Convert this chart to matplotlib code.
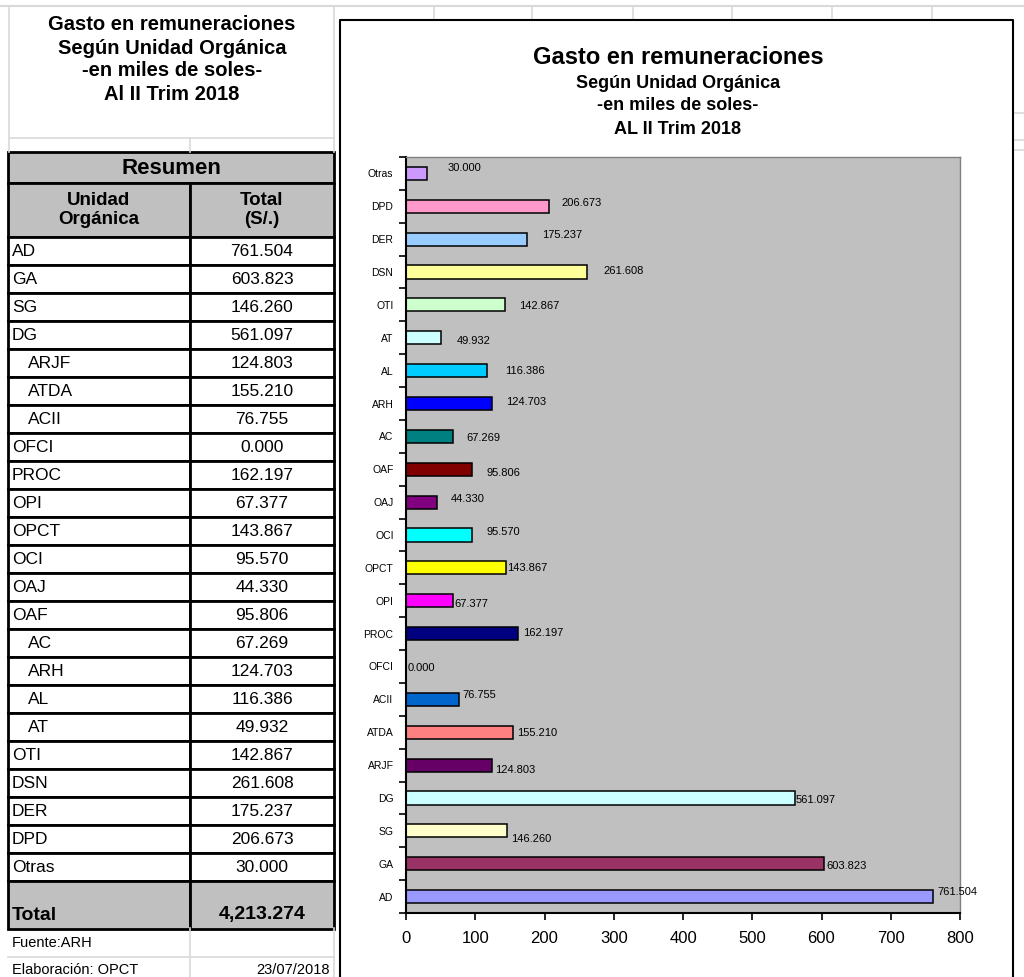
import matplotlib
matplotlib.use('Agg')
import matplotlib.pyplot as plt
from matplotlib.patches import Rectangle

plt.rcParams['font.family'] = ['Liberation Sans', 'DejaVu Sans']

# data (same order as the summary table, bottom to top on the chart)
units = ['AD', 'GA', 'SG', 'DG', 'ARJF', 'ATDA', 'ACII', 'OFCI', 'PROC', 'OPI', 'OPCT', 'OCI',
         'OAJ', 'OAF', 'AC', 'ARH', 'AL', 'AT', 'OTI', 'DSN', 'DER', 'DPD', 'Otras']
values = [761.504, 603.823, 146.260, 561.097, 124.803, 155.210, 76.755, 0.000, 162.197, 67.377,
          143.867, 95.570, 44.330, 95.806, 67.269, 124.703, 116.386, 49.932, 142.867, 261.608,
          175.237, 206.673, 30.000]
indented = ['ARJF', 'ATDA', 'ACII', 'AC', 'ARH', 'AL', 'AT']
bar_colors = ['#9999FF', '#993366', '#FFFFCC', '#CCFFFF', '#660066', '#FF8080', '#0066CC', '#C0C0C0',
              '#000080', '#FF00FF', '#FFFF00', '#00FFFF', '#800080', '#800000', '#008080', '#0000FF',
              '#00CCFF', '#CCFFFF', '#CCFFCC', '#FFFF99', '#99CCFF', '#FF99CC', '#CC99FF']
# data label nudges in pixels (dx, dy down), excel puts them a bit everywhere
label_nudge = [(4, -5), (2, 2), (4, 8), (1, 2), (3, 5), (4, 1), (3, -4), (2, 2), (5, -1), (2, 3),
               (1, 0), (14, -3), (14, -3), (14, 4), (14, 2), (14, -2), (18, 0), (16, 3), (14, 1),
               (16, -1), (15, -4), (12, -3), (21, -5)]

title_lines = ['Gasto en remuneraciones', 'Según Unidad Orgánica', '-en miles de soles-']
period_left = 'Al II Trim 2018'
period_chart = 'AL II Trim 2018'
fuente = 'Fuente:ARH'
elaboracion = 'Elaboración: OPCT'
fecha = '23/07/2018'

W, H = 1024, 977
fig = plt.figure(figsize=(W / 100, H / 100), dpi=100)
bg = fig.add_axes([0, 0, 1, 1])
bg.set_xlim(0, W)
bg.set_ylim(H, 0)
bg.axis('off')

grid_c = '#D9D9D9'
# spreadsheet gridlines
bg.plot([0, W], [6, 6], color=grid_c, lw=1.5)
bg.plot([9, 9], [6, 152], color=grid_c, lw=1.2)
bg.plot([334, 334], [6, 152], color=grid_c, lw=1.2)
bg.plot([9, 334], [138, 138], color=grid_c, lw=1.2)
bg.plot([190, 190], [138, 152], color=grid_c, lw=1.2)
for gx in [434, 532, 633, 732, 832, 932]:
    bg.plot([gx, gx], [6, 20], color=grid_c, lw=1.2)
for gy in [113, 140, 150]:
    bg.plot([1014, W], [gy, gy], color=grid_c, lw=1.2)

# left title
for i, t in enumerate(title_lines + [period_left]):
    bg.text(172, 25 + i * 23, t, ha='center', va='center', fontsize=14.5, fontweight='bold')

# summary table
xl, xm, xr = 8, 190, 334
bg.add_patch(Rectangle((xl, 152), xr - xl, 31, facecolor='#C0C0C0', edgecolor='black', lw=2))
bg.text((xl + xr) / 2, 168, 'Resumen', ha='center', va='center', fontsize=16, fontweight='bold')
for x0, x1, txt in [(xl, xm, 'Unidad\nOrgánica'), (xm, xr, 'Total\n(S/.)')]:
    bg.add_patch(Rectangle((x0, 183), x1 - x0, 54, facecolor='#C0C0C0', edgecolor='black', lw=2))
    bg.text((x0 + x1) / 2, 210, txt, ha='center', va='center', fontsize=13.5, fontweight='bold',
            linespacing=1.2)

row_h = 28
for i, (u, v) in enumerate(zip(units, values)):
    y0 = 237 + i * row_h
    for x0, x1 in [(xl, xm), (xm, xr)]:
        bg.add_patch(Rectangle((x0, y0), x1 - x0, row_h, facecolor='white', edgecolor='black', lw=2))
    tx = xl + 20 if u in indented else xl + 4
    bg.text(tx, y0 + row_h / 2 + 1, u, ha='left', va='center', fontsize=12.5)
    bg.text((xm + xr) / 2, y0 + row_h / 2 + 1, f'{v:,.3f}', ha='center', va='center', fontsize=12.5)

y_tot = 237 + len(units) * row_h
for x0, x1 in [(xl, xm), (xm, xr)]:
    bg.add_patch(Rectangle((x0, y_tot), x1 - x0, 48, facecolor='#C0C0C0', edgecolor='black', lw=2))
bg.text(xl + 4, y_tot + 34, 'Total', ha='left', va='center', fontsize=14, fontweight='bold')
bg.text((xm + xr) / 2, y_tot + 34, f'{sum(values):,.3f}', ha='center', va='center', fontsize=14,
        fontweight='bold')

bg.plot([xl, xr], [957, 957], color=grid_c, lw=1.2)
bg.plot([xm, xm], [928, H], color=grid_c, lw=1.2)
bg.plot([xr, xr], [928, H], color=grid_c, lw=1.2)
bg.text(xl + 4, 943, fuente, ha='left', va='center', fontsize=10.5)
bg.text(xl + 4, 970, elaboracion, ha='left', va='center', fontsize=10.5)
bg.text(xr - 4, 970, fecha, ha='right', va='center', fontsize=10.5)

# chart frame
bg.plot([340, 340, 1013, 1013], [H, 20, 20, H], color='black', lw=1.5)
bg.text(678, 57, title_lines[0], ha='center', va='center', fontsize=17, fontweight='bold')
for i, t in enumerate(title_lines[1:] + [period_chart]):
    bg.text(678, 83 + i * 23, t, ha='center', va='center', fontsize=13, fontweight='bold')

# bar chart
ax = fig.add_axes([406 / W, 1 - 913 / H, 554 / W, 756 / H])
ax.set_facecolor('#C0C0C0')
pos = list(range(len(units)))
ax.barh(pos, values, height=0.4, color=bar_colors, edgecolor='black', linewidth=1.1)
for p, v, (dx, dy) in zip(pos, values, label_nudge):
    ax.annotate(f'{v:,.3f}', (v, p), xytext=(dx, -dy), textcoords='offset pixels',
                ha='left', va='center', fontsize=8)
ax.set_xlim(0, 800)
ax.set_ylim(-0.5, len(units) - 0.5)
ax.set_xticks(range(0, 801, 100))
ax.tick_params(axis='x', labelsize=12, length=5, width=1.2, pad=8)
ax.set_yticks(pos)
ax.set_yticklabels(units, fontsize=7.5)
ax.set_yticks([p - 0.5 for p in pos] + [len(units) - 0.5], minor=True)
ax.tick_params(axis='y', which='major', length=0, pad=9)
ax.tick_params(axis='y', which='minor', length=5, width=1.2)
for s in ['top', 'right']:
    ax.spines[s].set_color('#808080')
    ax.spines[s].set_linewidth(1)
for s in ['left', 'bottom']:
    ax.spines[s].set_linewidth(1.5)

fig.savefig('out.png', dpi=100)
